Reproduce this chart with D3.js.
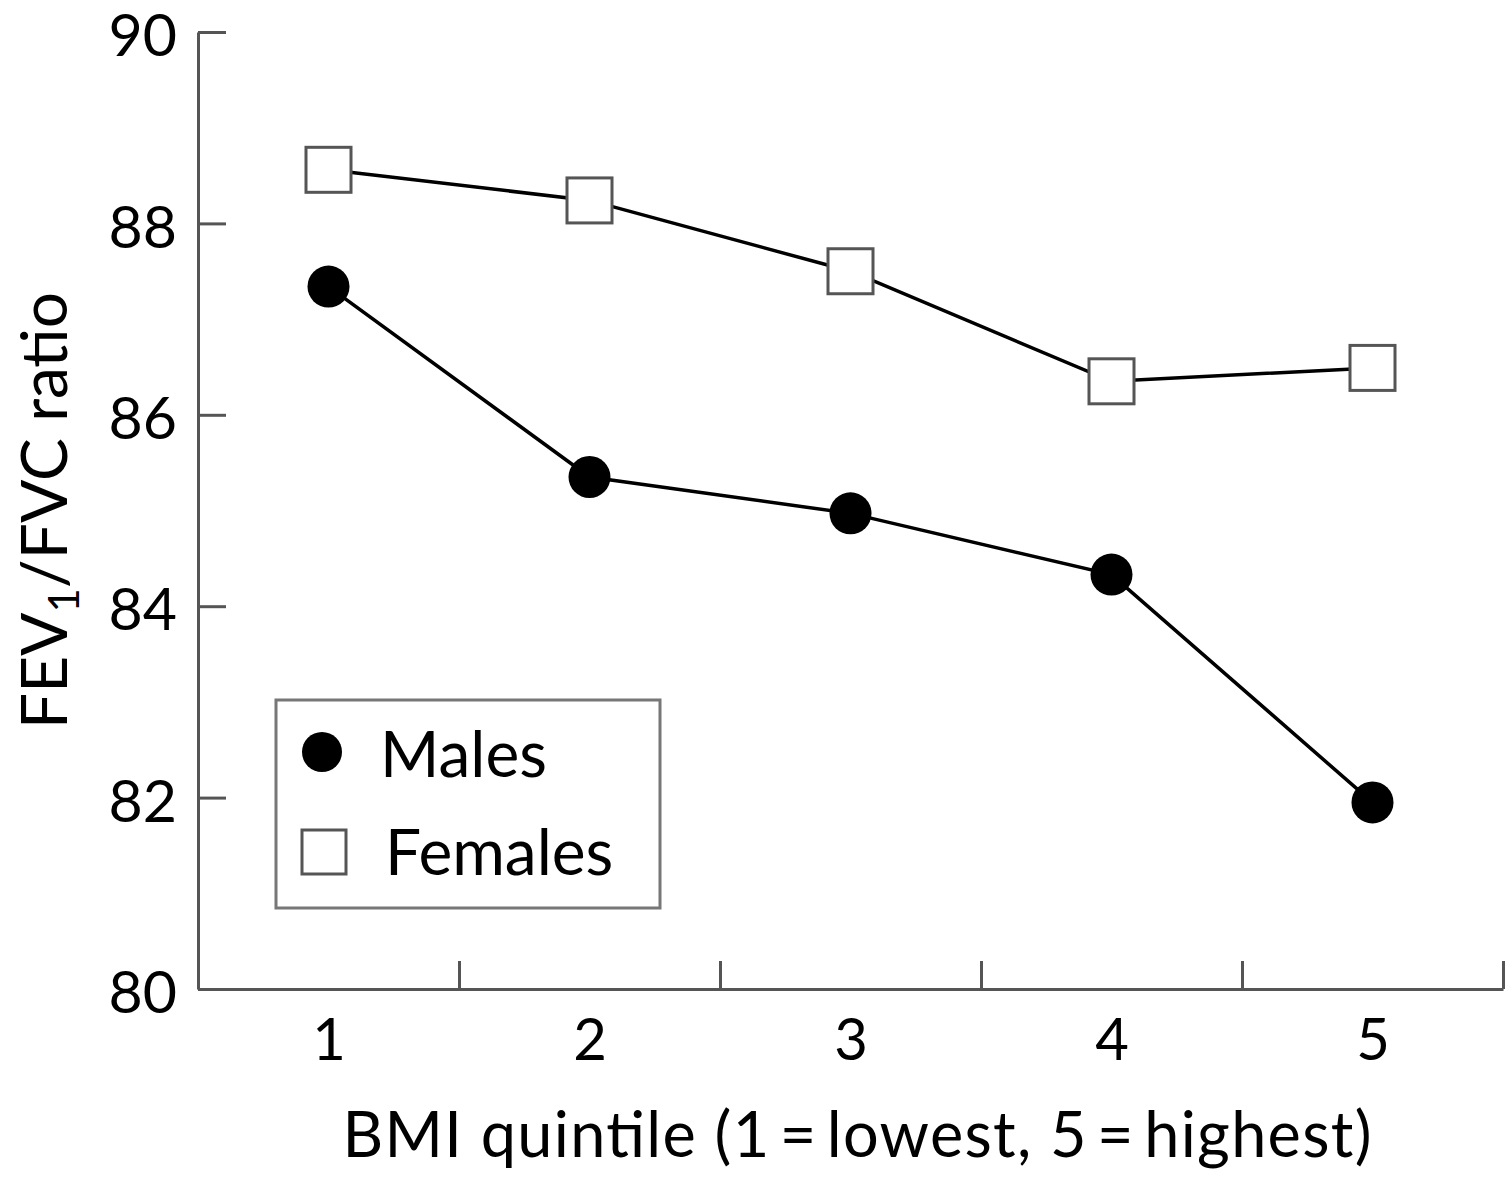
<!DOCTYPE html>
<html>
<head>
<meta charset="utf-8">
<script src="https://cdn.jsdelivr.net/npm/d3@7"></script>
<style>
  body { margin: 0; background: #fff; }
  svg text { font-family: Lato, "Open Sans", sans-serif; fill: #000; }
</style>
</head>
<body>
<div id="chart"></div>
<script>
// BMI quintiles and mean FEV1/FVC ratio
const quintiles = [1, 2, 3, 4, 5];
const males = [87.34, 85.35, 84.97, 84.33, 81.95];
const females = [88.56, 88.24, 87.5, 86.35, 86.49];
const yTicks = [80, 82, 84, 86, 88, 90];
const seriesNames = ["Males", "Females"];

const width = 1508, height = 1182;
const margin = { top: 32, right: 5, bottom: 193, left: 198 };

const svg = d3.select("#chart")
  .append("svg")
  .attr("width", width)
  .attr("height", height);

const x = d3.scaleLinear()
  .domain([0.5, 5.5])
  .range([margin.left, width - margin.right]);

const y = d3.scaleLinear()
  .domain([80, 90])
  .range([height - margin.bottom, margin.top]);

const axisColor = "#555";

// y axis, ticks pointing inwards
const yAxis = svg.append("g")
  .attr("transform", `translate(${margin.left},0)`)
  .call(d3.axisLeft(y).tickValues(yTicks).tickSizeInner(-28).tickSizeOuter(0).tickPadding(21));
yAxis.selectAll("text").attr("font-size", 59).attr("dy", "0.4em");

// x axis: boundary ticks between quintiles
svg.append("g")
  .attr("transform", `translate(0,${y(80)})`)
  .call(d3.axisBottom(x).tickValues([1.5, 2.5, 3.5, 4.5, 5.5]).tickFormat("").tickSizeInner(-28).tickSizeOuter(0));

// x labels at the quintile centres
const xLabels = svg.append("g")
  .attr("transform", `translate(0,${y(80)})`)
  .call(d3.axisBottom(x).tickValues(quintiles).tickFormat(d3.format("d")).tickSize(0).tickPadding(30));
xLabels.select(".domain").remove();
xLabels.selectAll("text").attr("font-size", 58);

svg.selectAll(".domain, .tick line")
  .attr("stroke", axisColor)
  .attr("stroke-width", 3);

// lines
const line = d3.line()
  .x((d, i) => x(quintiles[i]))
  .y(d => y(d));

[males, females].forEach(values => {
  svg.append("path")
    .datum(values)
    .attr("fill", "none")
    .attr("stroke", "#000")
    .attr("stroke-width", 3.5)
    .attr("d", line);
});

// markers
svg.append("g")
  .selectAll("circle")
  .data(males)
  .join("circle")
  .attr("cx", (d, i) => x(quintiles[i]))
  .attr("cy", d => y(d))
  .attr("r", 21)
  .attr("fill", "#000");

const sq = 45;
svg.append("g")
  .selectAll("rect")
  .data(females)
  .join("rect")
  .attr("x", (d, i) => x(quintiles[i]) - sq / 2)
  .attr("y", d => y(d) - sq / 2)
  .attr("width", sq)
  .attr("height", sq)
  .attr("fill", "#fff")
  .attr("stroke", axisColor)
  .attr("stroke-width", 3);

// axis titles
svg.append("text")
  .attr("x", 857)
  .attr("y", 1157)
  .attr("text-anchor", "middle")
  .attr("font-size", 63)
  .attr("textLength", 1029)
  .attr("lengthAdjust", "spacing")
  .text("BMI quintile (1\u2009=\u2009lowest, 5\u2009=\u2009highest)");

const yTitle = svg.append("text")
  .attr("transform", `translate(67,${(y(80) + y(90)) / 2}) rotate(-90)`)
  .attr("text-anchor", "middle")
  .attr("font-size", 64);
yTitle.append("tspan").text("FEV");
yTitle.append("tspan").attr("font-size", 42).attr("dy", 12).text("1");
yTitle.append("tspan").attr("dy", -12).text("/FVC ratio");

// legend
const legend = svg.append("g");
legend.append("rect")
  .attr("x", 276).attr("y", 700)
  .attr("width", 384).attr("height", 208)
  .attr("fill", "#fff")
  .attr("stroke", "#777")
  .attr("stroke-width", 3);
legend.append("circle")
  .attr("cx", 322).attr("cy", 752).attr("r", 20)
  .attr("fill", "#000");
legend.append("rect")
  .attr("x", 302).attr("y", 830).attr("width", 44).attr("height", 44)
  .attr("fill", "#fff").attr("stroke", axisColor).attr("stroke-width", 3);
legend.selectAll("text.lbl")
  .data(seriesNames)
  .join("text")
  .attr("class", "lbl")
  .attr("x", (d, i) => i === 0 ? 380 : 385)
  .attr("y", (d, i) => i === 0 ? 777 : 875)
  .attr("font-size", 64)
  .text(d => d);
</script>
</body>
</html>
